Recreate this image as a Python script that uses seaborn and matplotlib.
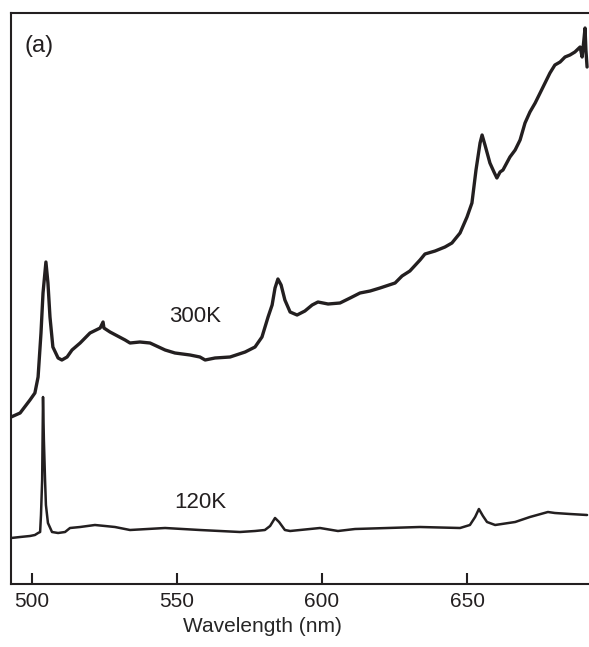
import matplotlib
matplotlib.use("Agg")
import matplotlib.pyplot as plt
import seaborn as sns
import pandas as pd

# Spectrum at 300 K (wavelength nm, intensity a.u.)
wl_300 = [492.8, 495.9, 499.3, 501.0, 502.1, 503.1, 503.8, 504.8, 505.5, 506.2,
          507.2, 509.0, 510.3, 512.1, 513.8, 516.6, 520.0, 523.5, 524.5, 524.8,
          526.9, 532.1, 533.8, 537.2, 540.7, 545.9, 549.3, 554.5, 557.9, 559.7,
          563.1, 568.3, 573.5, 576.9, 579.3, 581.4, 582.8, 583.8, 584.8, 585.9,
          587.2, 589.0, 591.4, 594.1, 596.6, 598.6, 602.1, 606.2, 609.7, 613.1,
          616.6, 620.0, 625.2, 627.6, 630.3, 633.8, 635.5, 639.0, 642.4, 644.8,
          647.6, 650.0, 651.7, 653.1, 654.5, 655.2, 656.2, 657.9, 659.3, 660.3,
          661.4, 662.4, 664.8, 666.6, 668.3, 670.0, 671.7, 673.5, 675.2, 676.9,
          678.6, 680.3, 682.1, 683.8, 685.5, 687.2, 689.0, 689.7, 690.3, 690.7,
          691.0, 691.4]
int_300 = [167, 171, 184, 191, 207, 251, 291, 322, 301, 267,
           237, 226, 224, 227, 234, 241, 251, 256, 262, 256,
           252, 244, 241, 242, 241, 234, 231, 229, 227, 224,
           226, 227, 232, 237, 247, 267, 279, 296, 305, 299,
           284, 272, 269, 273, 279, 282, 280, 281, 286, 291,
           293, 296, 301, 308, 313, 324, 330, 333, 337, 341,
           351, 367, 381, 414, 441, 449, 439, 421, 412, 406,
           412, 414, 427, 434, 444, 461, 472, 481, 491, 501,
           511, 519, 522, 527, 529, 532, 537, 527, 544, 556,
           534, 517]

# Spectrum at 120 K
wl_120 = [492.8, 495.9, 499.3, 501.0, 502.1, 502.8, 503.1, 503.5, 503.8, 504.1,
          504.5, 504.8, 505.5, 506.9, 509.0, 511.4, 513.1, 516.6, 521.7, 525.2,
          528.6, 533.8, 545.9, 557.9, 571.7, 576.9, 580.3, 582.1, 583.8, 585.2,
          587.2, 589.0, 599.3, 605.5, 611.4, 633.8, 647.6, 651.0, 652.8, 654.1,
          655.5, 656.9, 659.7, 666.6, 671.7, 677.9, 680.3, 685.5, 691.4]
int_120 = [46, 47, 48, 49, 51, 52, 69, 104, 187, 144,
           104, 79, 61, 52, 51, 52, 56, 57, 59, 58,
           57, 54, 56, 54, 52, 53, 54, 58, 66, 62,
           54, 53, 56, 53, 55, 57, 56, 59, 67, 75,
           68, 62, 59, 62, 67, 72, 71, 70, 69]

xticks = [500, 550, 600, 650]
xlabel = "Wavelength (nm)"
labels = {"300K": (556.2, 267), "120K": (557.9, 81)}
panel = "(a)"

sns.set_style("ticks")
plt.rcParams['font.family'] = ['Liberation Sans', 'DejaVu Sans']

df300 = pd.DataFrame({"wl": wl_300, "I": int_300})
df120 = pd.DataFrame({"wl": wl_120, "I": int_120})

fig = plt.figure(figsize=(5.89, 6.47), dpi=100)
ax = fig.add_axes([11/589, 1 - 584/647, 581/589, 571/647])
col = "#231f20"
sns.lineplot(data=df300, x="wl", y="I", ax=ax, color=col, lw=2.4, sort=False)
sns.lineplot(data=df120, x="wl", y="I", ax=ax, color=col, lw=1.8, sort=False)

ax.set_xlim(492.76, 693.1)
ax.set_ylim(0, 571)
ax.set_xticks(xticks)
ax.set_yticks([])
ax.set_ylabel("")
ax.set_xlabel(xlabel, fontsize=15)
ax.xaxis.set_label_coords(0.432, -0.058)
ax.tick_params(axis='x', direction='in', length=8, width=1.5, labelsize=15,
               pad=6, colors=col, labelcolor=col)
for s in ax.spines.values():
    s.set_linewidth(1.5)
    s.set_color(col)
ax.spines['right'].set_visible(False)

for t, (x, y) in labels.items():
    ax.text(x, y, t, fontsize=16, ha='center', va='center', color=col)
ax.text(502.6, 538, panel, fontsize=17, ha='center', va='center', color=col)

fig.savefig("out.png", dpi=100)
